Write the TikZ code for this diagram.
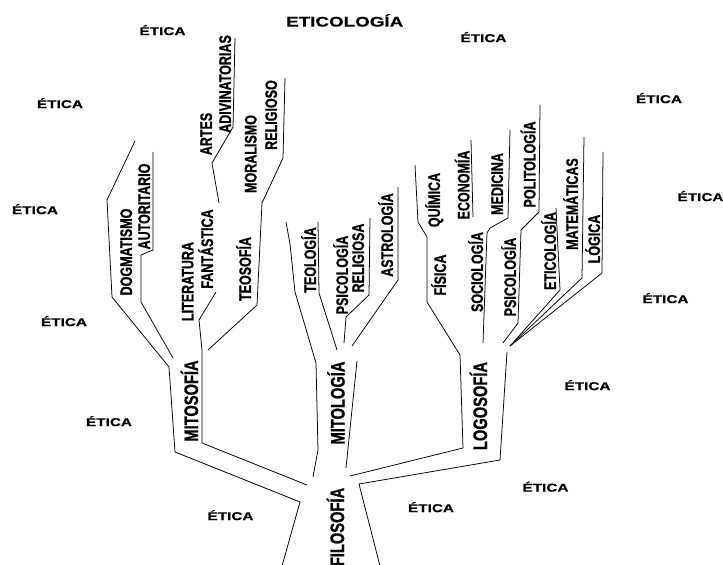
\documentclass[tikz,border=0pt]{standalone}
\usepackage{fontspec}
\newfontfamily\ramafont{Liberation Sans}[FakeStretch=0.75,FakeBold=0.8]
\newfontfamily\anchofont{Liberation Sans}[FakeStretch=1.35,FakeBold=0.5]
\usetikzlibrary{calc}
\tikzset{
  rama/.style={line width=0.65pt},
  lab/.style={rotate=90,inner sep=0pt,text height=10.2pt,text depth=0pt,
    font=\ramafont\bfseries\fontsize{14.25pt}{14.25pt}\selectfont},
  tronco/.style={lab,text height=12pt,
    font=\ramafont\bfseries\fontsize{16.7pt}{16.7pt}\selectfont},
  etica/.style={inner sep=0pt,text height=7pt,text depth=0pt,
    font=\anchofont\bfseries\fontsize{9.7pt}{9.7pt}\selectfont},
}
\newcommand{\ver}[2]{\coordinate (#1) at (#2);}

\begin{document}
\begin{tikzpicture}[x=0.03cm,y=-0.03cm]
    \useasboundingbox (0,0) rectangle (723,565);
    \clip (0,0) rectangle (723,565);
      % puntos de union
      \ver{ms}{169,367};
      \ver{ml}{316,363};
      \ver{lg}{460,355};
      \ver{fan}{510,346};

      % rama mitosofia
      \draw[rama] (135,141) -- (107,200) -- (112,297) -- (ms) -- (175,452) -- (300,502) -- (282,566);
      \draw[rama] (153,152) -- (153,250) -- (141,255) -- (141,302) -- (173,358);
      \draw[rama] (235,38) -- (233,127) -- (212,163) -- (219,203);
      \draw[rama] (216,292) -- (199,320) -- (202,350) -- (202,443) -- (307,485);
      \draw[rama] (285,78) -- (283,158) -- (262,203) -- (257,305) -- (208,350);

      % rama mitologia
      \draw[rama] (286,222) -- (290,244) -- (295,292) -- (ml) -- (318,450) -- (313,477);
      \draw[rama] (318,222) -- (319,293) -- (337,350);
      \draw[rama] (370,218) -- (369,295) -- (346,317) -- (344,343);
      \draw[rama] (398,187) -- (398,280) -- (352,346);
      \draw[rama] (357,361) -- (346,468);

      % rama logosofia
      \draw[rama] (415,165) -- (418,222) -- (427,237) -- (427,302) -- (lg) -- (463,448) -- (350,476);
      \draw[rama] (507,352) -- (500,460) -- (359,484) -- (380,566);
      \draw[rama] (471,140) -- (473,217);
      \draw[rama] (510,130) -- (508,218) -- (490,228) -- (487,233) -- (483,343);
      \draw[rama] (540,105) -- (539,212) -- (521,230) -- (518,323) -- (503,343);
      \draw[rama] (556,208) -- (560,290) -- (fan);
      \draw[rama] (584,137) -- (582,278) -- (fan);
      \draw[rama] (603,152) -- (602,273) -- (fan);

      % textos de las ramas
      \node[lab] (dogm) at (126,252) {DOGMATISMO};
      \node[lab] (auto) at (144,206.5) {AUTORITARIO};
      \node[lab] (lite) at (187.5,281.5) {LITERATURA};
      \node[lab] (fant) at (207,249) {FANTÁSTICA};
      \node[lab] (arte) at (206,134) {ARTES};
      \node[lab] (adiv) at (225,84) {ADIVINATORIAS};
      \node[lab] (mora) at (250.5,154) {MORALISMO};
      \node[lab] (reli) at (271,115) {RELIGIOSO};
      \node[lab] (teos) at (245,269) {TEOSOFÍA};
      \node[lab] (teol) at (310,260) {TEOLOGÍA};
      \node[lab] (psir) at (342,275) {PSICOLOGÍA};
      \node[lab] (rela) at (358,258) {RELIGIOSA};
      \node[lab] (astr) at (387,235) {ASTROLOGÍA};
      \node[lab] (quim) at (434,200) {QUÍMICA};
      \node[lab] (fisi) at (440,275) {FÍSICA};
      \node[lab] (econ) at (463.5,185) {ECONOMÍA};
      \node[lab] (soci) at (477,272) {SOCIOLOGÍA};
      \node[lab] (medi) at (497,184) {MEDICINA};
      \node[lab] (psic) at (510,277) {PSICOLOGÍA};
      \node[lab] (poli) at (529.5,164.5) {POLITOLOGÍA};
      \node[lab] (etco) at (550,251) {ETICOLOGÍA};
      \node[lab] (mate) at (572,204) {MATEMÁTICAS};
      \node[lab] (logi) at (594,239) {LÓGICA};

      \node[tronco] (mitos) at (191,401) {MITOSOFÍA};
      \node[tronco] (mitol) at (337.5,403) {MITOLOGÍA};
      \node[tronco] (logos) at (480,406) {LOGOSOFÍA};
      \node[tronco] (filo) at (337,527) {FILOSOFÍA};

      % titulo y etica alrededor
      \node[etica,text height=8.6pt,font=\anchofont\bfseries\fontsize{11.9pt}{11.9pt}\selectfont] (titulo) at (344.7,21.5) {ETICOLOGÍA};
      \node[etica] (e1) at (162.5,31) {ÉTICA};
      \node[etica] (e2) at (483.5,38) {ÉTICA};
      \node[etica] (e3) at (60,104) {ÉTICA};
      \node[etica] (e4) at (659,99) {ÉTICA};
      \node[etica] (e5) at (35,210) {ÉTICA};
      \node[etica] (e6) at (700.5,197) {ÉTICA};
      \node[etica] (e7) at (64,322) {ÉTICA};
      \node[etica] (e8) at (665.5,299) {ÉTICA};
      \node[etica] (e9) at (587.5,386) {ÉTICA};
      \node[etica] (e10) at (109,422) {ÉTICA};
      \node[etica] (e11) at (545.5,487.5) {ÉTICA};
      \node[etica] (e12) at (230.5,516) {ÉTICA};
      \node[etica] (e13) at (431,508) {ÉTICA};
  \end{tikzpicture}
\end{document}
